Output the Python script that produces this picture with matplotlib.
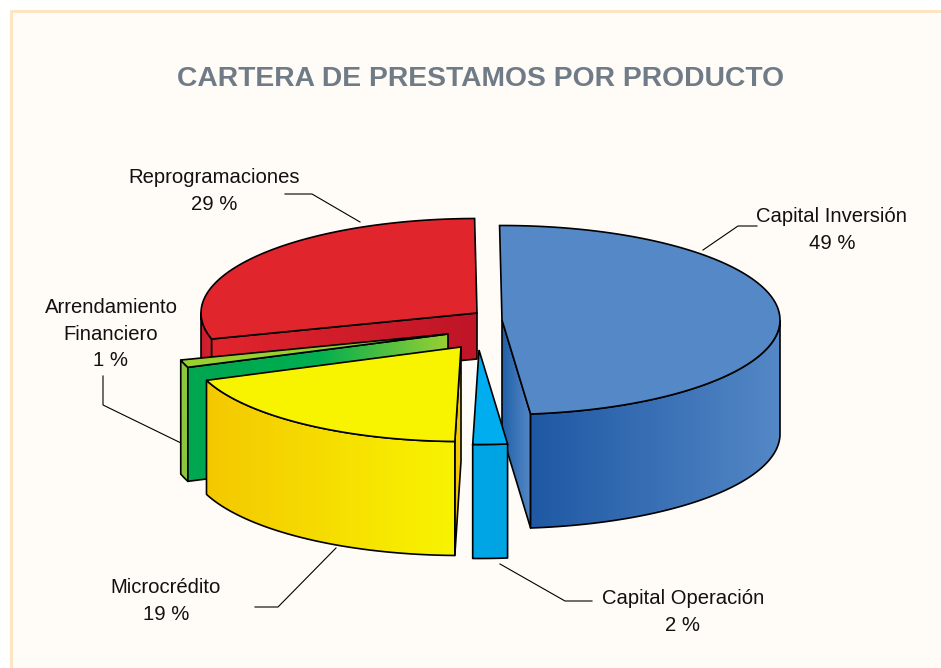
import numpy as np
import matplotlib
matplotlib.use('Agg')
import matplotlib.pyplot as plt
from matplotlib.patches import Polygon, Rectangle
from matplotlib.colors import LinearSegmentedColormap

plt.rcParams['font.family'] = ['Liberation Sans', 'DejaVu Sans']

# slices clockwise from 12 o'clock
names = ['Capital Inversión', 'Capital Operación', 'Microcrédito', 'Arrendamiento\nFinanciero', 'Reprogramaciones']
shares = [48.5, 2.0, 18.9, 1.3, 29.3]
pct_labels = ['49 %', '2 %', '19 %', '1 %', '29 %']

# look of the fake 3d pie, in pixels
RY, DEPTH, RED_DEPTH = 94.5, 114, 46
START = -0.5
rx = [278, 278, 272, 278, 276]
apex = {0: (502, 320), 1: (479, 350), 2: (461, 347), 3: (448, 334), 4: (477, 313)}
top_col = ['#5588c6', '#00aeef', '#f8f400', '#98d02f', '#e1252d']

ends = START + 3.6 * np.cumsum(shares)
starts = np.r_[START, ends[:-1]]


def rim_pts(i, t0, t1):
    t = np.radians(np.linspace(t0, t1, 120))
    cx, cy = apex[i]
    return np.c_[cx + rx[i] * np.sin(t), cy - RY * np.cos(t)]


def grad_poly(ax, pts, colors, z):
    pts = np.asarray(pts)
    cmap = LinearSegmentedColormap.from_list('g', colors)
    x0, x1 = pts[:, 0].min(), pts[:, 0].max()
    y0, y1 = pts[:, 1].min(), pts[:, 1].max()
    im = ax.imshow(np.linspace(0, 1, 256)[None, :], cmap=cmap, extent=[x0, x1, y1, y0],
                   aspect='auto', zorder=z, interpolation='bilinear')
    edge = Polygon(pts, closed=True, fc='none', ec='black', lw=1.2, zorder=z + 0.1, joinstyle='round')
    ax.add_patch(edge)
    im.set_clip_path(edge)


def wall(pts, depth=DEPTH):
    return np.r_[pts, pts[::-1] + [0, depth]]


def top_face(ax, i, rim, z):
    ax.add_patch(Polygon(np.r_[[apex[i]], rim], fc=top_col[i], ec='black', lw=1.2, zorder=z))


fig = plt.figure(figsize=(9.41, 6.68), dpi=100, facecolor='white')
ax = fig.add_axes([0, 0, 1, 1])
ax.set_xlim(0, 941)
ax.set_ylim(668, 0)
ax.axis('off')

ax.add_patch(Rectangle((11, 11), 940, 670, fc='#fffbf6', ec='#fde5c4', lw=2.2, zorder=0))

ax.text(481, 79, 'CARTERA DE PRESTAMOS POR PRODUCTO', ha='center', va='center',
        fontsize=20.3, fontweight='bold', color='#6f7b86', zorder=1)

# leaders
leaders = [[(757, 226), (738, 226), (703, 250)],
           [(592, 601), (565, 601), (500, 564)],
           [(255, 607), (278, 607), (336, 548)],
           [(103, 376), (103, 405), (181, 443)],
           [(285, 194), (312, 194), (360, 222)]]
for line in leaders:
    ax.plot(*zip(*line), color='black', lw=0.8, zorder=1)

label_pos = [(832, 230), (683, 612), (166, 601), (111, 334), (214, 191)]
for nm, pc, (x, y) in zip(names, pct_labels, label_pos):
    ax.text(x, y, nm + '\n' + pc, ha='center', va='center', fontsize=14.6,
            linespacing=1.48, color='#111111', zorder=1)

# red
i = 4
rim = rim_pts(i, starts[i], ends[i])
grad_poly(ax, wall(rim[rim[:, 1] >= apex[i][1]], RED_DEPTH), ['#c91c2c', '#d8222e'], 2)
grad_poly(ax, wall(np.array([rim[0], apex[i]]), RED_DEPTH), ['#e1252d', '#bf1527'], 3)
top_face(ax, i, rim, 4)

# blue
i = 0
rim = rim_pts(i, starts[i], ends[i])
grad_poly(ax, wall(np.array([apex[i], rim[-1]])), ['#2060a8', '#5588c6'], 5)
front = rim[rim[:, 1] >= apex[i][1]]
grad_poly(ax, wall(front[::-1]), ['#1f58a4', '#5488c6'], 6)
top_face(ax, i, rim, 7)

# green
i = 3
rim = rim_pts(i, starts[i], ends[i])
grad_poly(ax, wall(rim), ['#8cc63f', '#8cc63f'], 8)
grad_poly(ax, wall(np.array([rim[0], apex[i]])), ['#00a651', '#00ae50', '#9ad033'], 9)
top_face(ax, i, rim, 10)

# yellow
i = 2
rim = rim_pts(i, starts[i], ends[i])
grad_poly(ax, wall(np.array([rim[0], apex[i]])), ['#f2c400', '#f6d000'], 11)
grad_poly(ax, wall(rim[::-1]), ['#f4c800', '#f8f400'], 12)
top_face(ax, i, rim, 13)

# cyan
i = 1
rim = rim_pts(i, starts[i], ends[i])
grad_poly(ax, wall(rim[::-1]), ['#00a6e6', '#00a4e3'], 14)
top_face(ax, i, rim, 15)

ax.set_xlim(0, 941)
ax.set_ylim(668, 0)
fig.savefig('out.png', dpi=100, facecolor='white')
